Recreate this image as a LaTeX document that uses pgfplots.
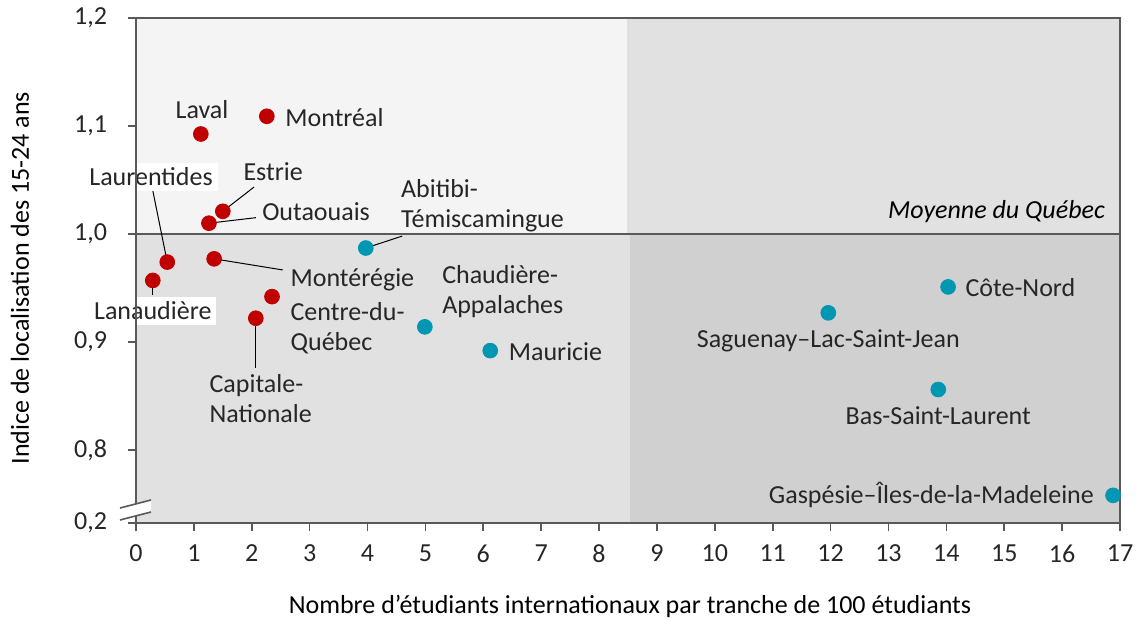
\documentclass[border=0pt]{standalone}
\usepackage{pgfplots}
\pgfplotsset{compat=1.18}
\usepackage{fontspec}
\setmainfont{Carlito}
\definecolor{cred}{HTML}{C00000}
\definecolor{cblue}{HTML}{0097B2}
\definecolor{axgray}{HTML}{595959}
\definecolor{bgA}{HTML}{F4F4F4}
\definecolor{bgB}{HTML}{E1E1E1}
\definecolor{bgC}{HTML}{D0D0D0}
\definecolor{txt}{HTML}{262626}
\newcommand\lab{\fontsize{13}{15}\selectfont}
\begin{document}
\begin{tikzpicture}
\useasboundingbox (-68pt,-48.5pt) rectangle (501pt,261.5pt);
\begin{axis}[
  scale only axis,
  width=492pt, height=252.5pt,
  xmin=0, xmax=17, ymin=0.7324, ymax=1.2,
  xtick={0,1,...,17},
  ytick={0.7324,0.8,0.9,1.0,1.1,1.2},
  yticklabels={{0,2},{0,8},{0,9},{1,0},{1,1},{1,2}},
  tick align=outside,
  major tick length=4pt,
  xtick pos=bottom, ytick pos=left,
  tick style={axgray, line width=0.8pt},
  axis line style={axgray, line width=1pt},
  axis on top,
  clip=false,
  ticklabel style={font=\fontsize{13}{15}\selectfont, text=txt},
  xticklabel style={yshift=-3.5pt},
  yticklabel style={xshift=-7pt},
  /pgf/number format/assume math mode=true,
  xlabel={Nombre d’étudiants internationaux par tranche de 100 étudiants},
  ylabel={Indice de localisation des 15-24 ans},
  xlabel style={at={(axis description cs:0.502,-0.166)}, anchor=center, font=\fontsize{13}{15}\selectfont, text=black},
  ylabel style={at={(axis description cs:-0.118,0.485)}, anchor=center, rotate=0, font=\fontsize{13}{15}\selectfont, text=black},
]
% background regions
\fill[bgA] (axis cs:0,1.0) rectangle (axis cs:8.5,1.2);
\fill[bgB] (axis cs:8.5,1.0) rectangle (axis cs:17,1.2);
\fill[bgB] (axis cs:0,0.7324) rectangle (axis cs:8.5,1.0);
\fill[bgC] (axis cs:8.5,0.7324) rectangle (axis cs:17,1.0);
\draw[line width=1.5pt, color=white!88!black] (axis cs:8.5,0.7324) -- (axis cs:8.5,1.2);
% mean line
\addplot[axgray, line width=0.8pt] coordinates {(0,1.0) (17,1.0)};
% leader lines
\draw[black, line width=0.5pt] (axis cs:0.288,1.0407) -- (axis cs:0.54,0.974);
\draw[black, line width=0.5pt] (axis cs:2.04,1.0435) -- (axis cs:1.50,1.021);
\draw[black, line width=0.5pt] (axis cs:2.07,1.0151) -- (axis cs:1.26,1.010);
\draw[black, line width=0.5pt] (axis cs:2.535,0.9667) -- (axis cs:1.35,0.977);
\draw[black, line width=0.5pt] (axis cs:2.07,0.876) -- (axis cs:2.07,0.922);
\draw[black, line width=0.5pt] (axis cs:0.29,0.9435) -- (axis cs:0.29,0.957);
\draw[black, line width=0.5pt] (axis cs:4.6,0.9981) -- (axis cs:3.97,0.987);
% red points
\addplot[only marks, mark=*, mark size=3.7pt, color=cred, mark options={fill=cred, draw=cred}] coordinates {
(1.12,1.0926) (2.26,1.109) (1.50,1.021) (1.26,1.010) (0.54,0.974)
(0.29,0.957) (1.35,0.977) (2.35,0.942) (2.07,0.922)};
% blue points
\addplot[only marks, mark=*, mark size=3.7pt, color=cblue, mark options={fill=cblue, draw=cblue}] coordinates {
(3.97,0.987) (4.99,0.914) (6.12,0.892) (14.03,0.951) (11.96,0.927) (13.86,0.856) (16.88,0.758)};
% labels
\begin{scope}[every node/.style={font=\lab, text=txt, inner sep=1pt}]
\node at (axis cs:1.14,1.115) {Laval};
\node[anchor=west] at (axis cs:2.54,1.1074) {Montréal};
\node[fill=white, inner sep=2.5pt] at (axis cs:0.26,1.0528) {Laurentides};
\node at (axis cs:2.37,1.0574) {Estrie};
\node[anchor=west] at (axis cs:2.14,1.0204) {Outaouais};
\node[anchor=west] at (axis cs:2.63,0.9574) {Montérégie};
\node[anchor=west, align=left] at (axis cs:2.63,0.913) {Centre-du-\\Québec};
\node[anchor=west, align=left] at (axis cs:1.23,0.848) {Capitale-\\Nationale};
\node[fill=white, inner sep=2.5pt] at (axis cs:0.29,0.9287) {Lanaudière};
\node[anchor=west, align=left] at (axis cs:4.54,1.0259) {Abitibi-\\Témiscamingue};
\node[anchor=west, align=left] at (axis cs:5.25,0.9463) {Chaudière-\\Appalaches};
\node[anchor=west] at (axis cs:6.40,0.891) {Mauricie};
\node[anchor=east, font=\lab\itshape, text=black] at (axis cs:16.78,1.0204) {Moyenne du Québec};
\node[anchor=west] at (axis cs:14.29,0.95) {Côte-Nord};
\node at (axis cs:11.96,0.901) {Saguenay–Lac-Saint-Jean};
\node at (axis cs:13.86,0.8315) {Bas-Saint-Laurent};
\node[anchor=east] at (axis cs:16.59,0.758) {Gaspésie–Îles-de-la-Madeleine};
\end{scope}
\end{axis}
% axis break
\fill[white] (-8pt,1.5pt) -- (7.5pt,5.5pt) -- (7.5pt,11.5pt) -- (-8pt,7.5pt) -- cycle;
\draw[axgray, line width=0.8pt] (-8pt,1.5pt) -- (7.5pt,5.5pt);
\draw[axgray, line width=0.8pt] (-8pt,7.5pt) -- (7.5pt,11.5pt);
\end{tikzpicture}
\end{document}
